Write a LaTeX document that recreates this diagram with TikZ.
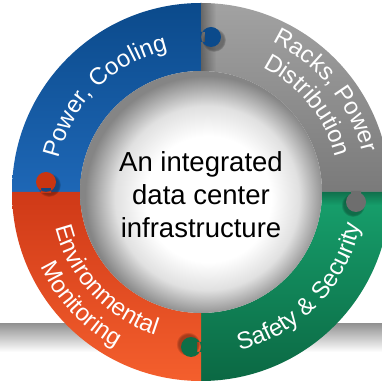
\documentclass[tikz,border=0pt]{standalone}
\usepackage{fontspec}
\setmainfont{Liberation Sans}
\usetikzlibrary{decorations.text,fadings}
\definecolor{bluetop}{HTML}{0B4A8B}
\definecolor{bluebot}{HTML}{1E67B6}
\definecolor{graytop}{HTML}{A2A2A2}
\definecolor{graybot}{HTML}{7A7A7A}
\definecolor{greentop}{HTML}{17A16D}
\definecolor{greenbot}{HTML}{0B6843}
\definecolor{orangetop}{HTML}{CF3917}
\definecolor{orangebot}{HTML}{F45F2D}
\definecolor{knobblue}{HTML}{0B4A8B}
\definecolor{knobgray}{HTML}{6E6E6E}
\definecolor{knobgreen}{HTML}{0D6E47}
\definecolor{knoborange}{HTML}{C93511}
\pgfdeclareradialshading{centershade}{\pgfpoint{2bp}{-2bp}}{color(0bp)=(white); color(13bp)=(white); color(19bp)=(black!12); color(25bp)=(black!48); color(50bp)=(black!48)}
\newcommand\ringseg[2]{([shift={(C)}]#1:189) arc[start angle=#1,end angle=#2,radius=189] -- ([shift={(C)}]#2:121) arc[start angle=#2,end angle=#1,radius=121] -- cycle}
\newcommand\ringfont{\fontsize{24}{24}\selectfont}
\tikzset{
  ringtext/.style={decorate, decoration={text along path, text={|\ringfont|#1}, text align=center, text color=white}},
  knobshadow/.style={fill=black, fill opacity=0.3, path fading=circle with fuzzy edge 20 percent},
}
\begin{document}
\begin{tikzpicture}[x=1pt,y=1pt]
\useasboundingbox (0,0) rectangle (382,385);
\clip (0,0) rectangle (382,385);
\fill[white] (0,0) rectangle (382,385);
\coordinate (C) at (201,193);
% floor band
\shade[top color=black!42, bottom color=white] (0,33) rectangle (382,61);
% ring segments
\shade[top color=bluetop, bottom color=bluebot] \ringseg{90}{180};
\shade[top color=graytop, bottom color=graybot] \ringseg{0}{90};
\shade[top color=greentop, bottom color=greenbot] \ringseg{-90}{0};
\shade[top color=orangetop, bottom color=orangebot] \ringseg{180}{270};
% segment shadows
\begin{scope}
  \clip \ringseg{0}{90};
  \fill[black, fill opacity=.35, path fading=east] (201,193) rectangle (216,385);
\end{scope}
\begin{scope}
  \clip \ringseg{-90}{0};
  \fill[black, fill opacity=.3, path fading=south] (201,180) rectangle (392,193);
\end{scope}
% knob shadows
\fill[knobshadow] (214,345) circle (12);
\fill[knobshadow] (353,180) circle (12);
\fill[knobshadow] (188,41) circle (12);
\fill[knobshadow] (49,200) circle (12);
% knobs
\fill[knobblue] (211,348) circle (10) (200,343) rectangle (205,353);
\fill[knobgray] (356,183) circle (10) (351,194) rectangle (361,189);
\fill[knobgreen] (191,38) circle (10) (197,33) rectangle (202,43);
\fill[knoborange] (46,203) circle (10) (41,192) rectangle (51,197);
% centre
\path[shading=centershade] (C) circle (121);
\node[font=\fontsize{27.5}{33}\selectfont, align=center] (centre) at (201,190) {An integrated\\data center\\infrastructure};
% ring labels
\path[ringtext={Power, Cooling}] ([shift={(C)}]185:146) arc[start angle=185,end angle=85,radius=146];
\path[ringtext={Racks, Power}] ([shift={(C)}]89:166) arc[start angle=89,end angle=-11,radius=166];
\path[ringtext={Distribution}] ([shift={(C)}]89:139) arc[start angle=89,end angle=-11,radius=139];
\path[ringtext={Environmental}] ([shift={(C)}]173:150) arc[start angle=173,end angle=273,radius=150];
\path[ringtext={Monitoring}] ([shift={(C)}]173:177) arc[start angle=173,end angle=273,radius=177];
\path[ringtext={Safety {\&} Security}] ([shift={(C)}]266:163) arc[start angle=266,end angle=366,radius=163];
\end{tikzpicture}
\end{document}
